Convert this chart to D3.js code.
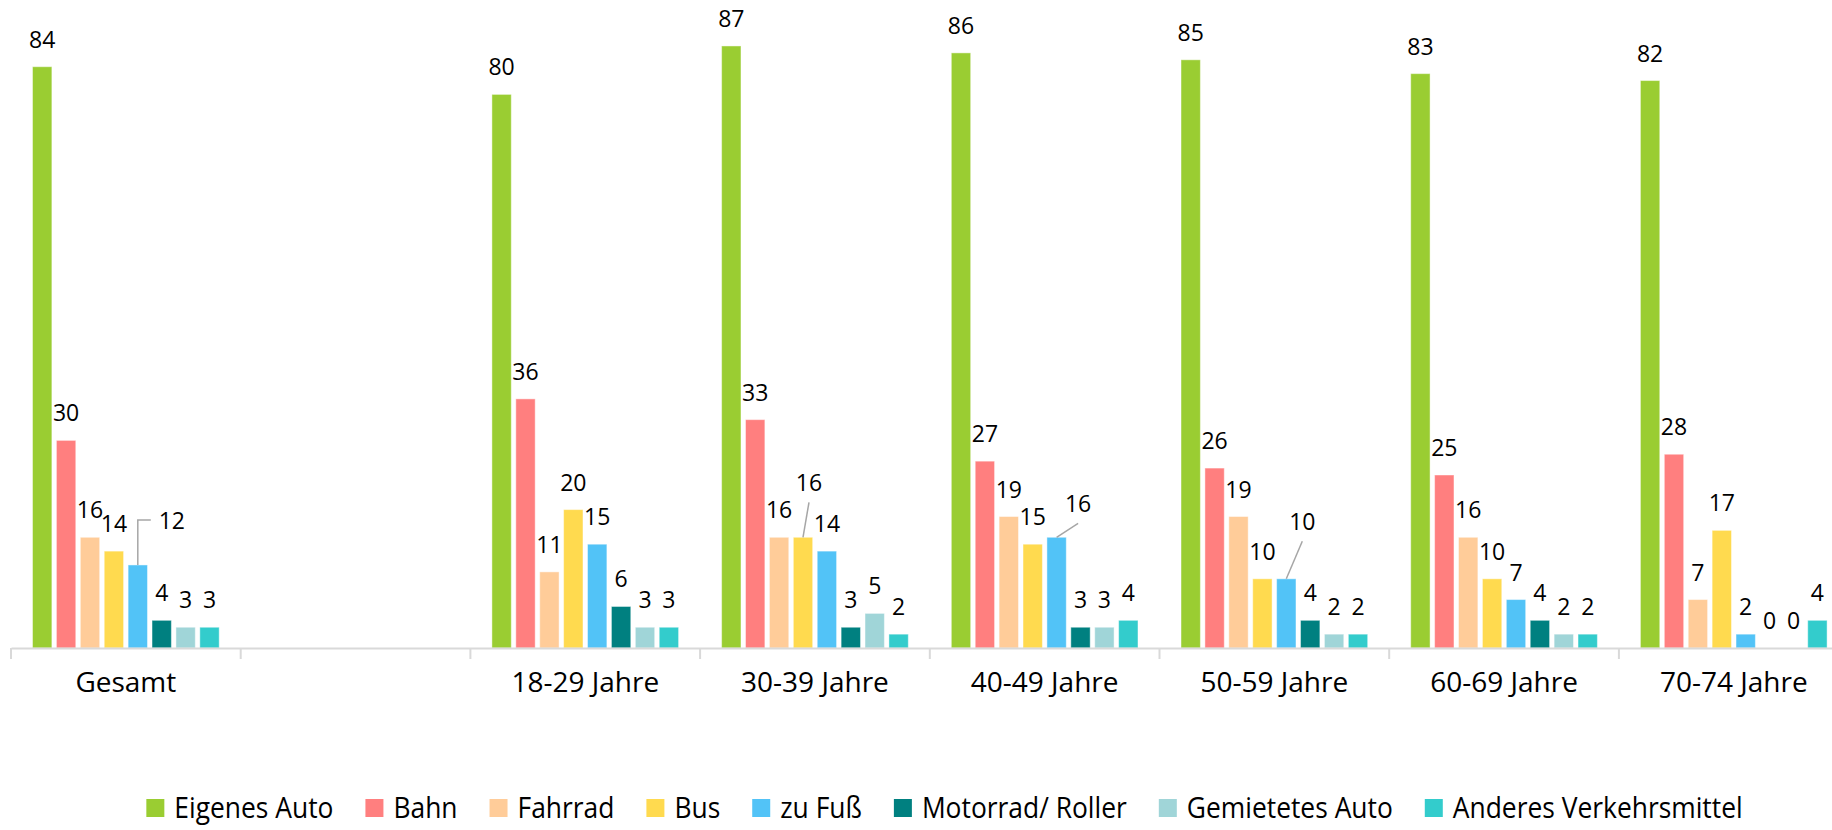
<!DOCTYPE html>
<html>
<head>
<meta charset="utf-8">
<script src="https://cdn.jsdelivr.net/npm/d3@7"></script>
<style>
  html, body { margin: 0; padding: 0; background: #fff; }
  svg { display: block; }
  text { font-family: "Open Sans", sans-serif; fill: #000; }
</style>
</head>
<body>
<svg id="chart" width="1832" height="830"></svg>
<script>
// ---------- data ----------
const categories = ["Gesamt", "", "18-29 Jahre", "30-39 Jahre", "40-49 Jahre", "50-59 Jahre", "60-69 Jahre", "70-74 Jahre"];
const seriesNames = ["Eigenes Auto", "Bahn", "Fahrrad", "Bus", "zu Fuß", "Motorrad/ Roller", "Gemietetes Auto", "Anderes Verkehrsmittel"];

const eigenesAuto      = [84, null, 80, 87, 86, 85, 83, 82];
const bahn             = [30, null, 36, 33, 27, 26, 25, 28];
const fahrrad          = [16, null, 11, 16, 19, 19, 16, 7];
const bus              = [14, null, 20, 16, 15, 10, 10, 17];
const zuFuss           = [12, null, 15, 14, 16, 10, 7, 2];
const motorrad         = [4, null, 6, 3, 3, 4, 4, 0];
const gemietetesAuto   = [3, null, 3, 5, 3, 2, 2, 0];
const anderes          = [3, null, 3, 2, 4, 2, 2, 4];

const seriesValues = [eigenesAuto, bahn, fahrrad, bus, zuFuss, motorrad, gemietetesAuto, anderes];
const seriesColors = ["#9ACD32", "#FF7F7F", "#FFCC99", "#FFDA4F", "#52C3F7", "#008080", "#A0D5D8", "#33CCCC"];

// labels moved away from their bar (with leader lines)
const movedLabels = [
  { category: "Gesamt",      series: "zu Fuß", dx: 34,  dy: -17, elbow: true },
  { category: "30-39 Jahre", series: "Bus",    dx: 6,   dy: -27 },
  { category: "40-49 Jahre", series: "zu Fuß", dx: 21.5, dy: -6 },
  { category: "50-59 Jahre", series: "zu Fuß", dx: 16,  dy: -29.5 }
];

// ---------- layout ----------
const svg = d3.select("#chart");
const baseY = 648;
const catWidth = 229.7;
const left = 11;

const x0 = d3.scaleBand().domain(categories).range([left, left + catWidth * categories.length]).padding(0);
const x1 = d3.scaleBand().domain(seriesNames).range([0, x0.bandwidth()]).paddingInner(0.19).paddingOuter(0.9);
const y = d3.scaleLinear().domain([0, 87]).range([baseY, baseY - 87 * 6.92]);

const records = [];
categories.forEach((c, ci) => {
  seriesNames.forEach((s, si) => {
    const v = seriesValues[si][ci];
    if (v !== null && v !== undefined) records.push({ category: c, series: s, value: v, color: seriesColors[si] });
  });
});

// bars
svg.append("g").selectAll("rect").data(records).join("rect")
  .attr("x", d => x0(d.category) + x1(d.series))
  .attr("y", d => y(d.value))
  .attr("width", x1.bandwidth())
  .attr("height", d => baseY - y(d.value))
  .attr("fill", d => d.color)
  .attr("stroke", "#ffffff")
  .attr("stroke-opacity", 0.45)
  .attr("stroke-width", 1);

// axis
const axis = d3.axisBottom(x0).tickSize(0).tickFormat("");
const axisG = svg.append("g").attr("transform", `translate(0,${baseY})`).call(axis);
axisG.select(".domain").attr("stroke", "#d9d9d9").attr("stroke-width", 2);
const bounds = categories.map(c => x0(c)).concat([x0(categories[categories.length - 1]) + x0.bandwidth()]);
axisG.selectAll(".sep").data(bounds).join("line").attr("class", "sep")
  .attr("x1", d => d).attr("x2", d => d).attr("y1", 0).attr("y2", 11)
  .attr("stroke", "#d9d9d9").attr("stroke-width", 2);
// category labels
svg.append("g").selectAll("text").data(categories).join("text")
  .attr("x", d => x0(d) + x0.bandwidth() / 2)
  .attr("y", 692)
  .attr("text-anchor", "middle")
  .style("font-size", "28px")
  .text(d => d);

// data labels
const gap = 19;
const labelG = svg.append("g");
records.forEach(d => {
  const cx = x0(d.category) + x1(d.series) + x1.bandwidth() / 2;
  const top = y(d.value);
  let lx = cx, ly = top - gap;
  const m = movedLabels.find(o => o.category === d.category && o.series === d.series);
  if (m) {
    lx = cx + m.dx; ly = top - gap + m.dy;
    if (m.elbow) {
      labelG.append("path")
        .attr("d", `M${cx},${top} V${ly - 9} H${lx - 21}`)
        .attr("fill", "none").attr("stroke", "#a6a6a6").attr("stroke-width", 1.5);
    } else {
      labelG.append("line")
        .attr("x1", cx).attr("y1", top).attr("x2", lx).attr("y2", ly + 11)
        .attr("stroke", "#a6a6a6").attr("stroke-width", 1.5);
    }
  }
  labelG.append("text")
    .attr("x", lx).attr("y", ly)
    .attr("text-anchor", "middle")
    .style("font-size", "23px")
    .text(d.value);
});

// legend
const sx = 0.88;
const legend = svg.append("g");
const items = legend.selectAll("g").data(seriesNames).join("g");
items.append("rect").attr("width", 18).attr("height", 18).attr("y", 799)
  .attr("fill", (d, i) => seriesColors[i]);
items.append("text")
  .attr("transform", `translate(28,818) scale(${sx},1)`)
  .style("font-size", "30px").text(d => d);
let cursor = 0;
const positions = [];
items.each(function () {
  const w = this.querySelector("text").getComputedTextLength() * sx;
  positions.push(cursor);
  cursor += 28 + w + 32;
});
const totalW = cursor - 32;
const startX = 944.5 - totalW / 2;
items.attr("transform", (d, i) => `translate(${startX + positions[i]},0)`);
</script>
</body>
</html>
